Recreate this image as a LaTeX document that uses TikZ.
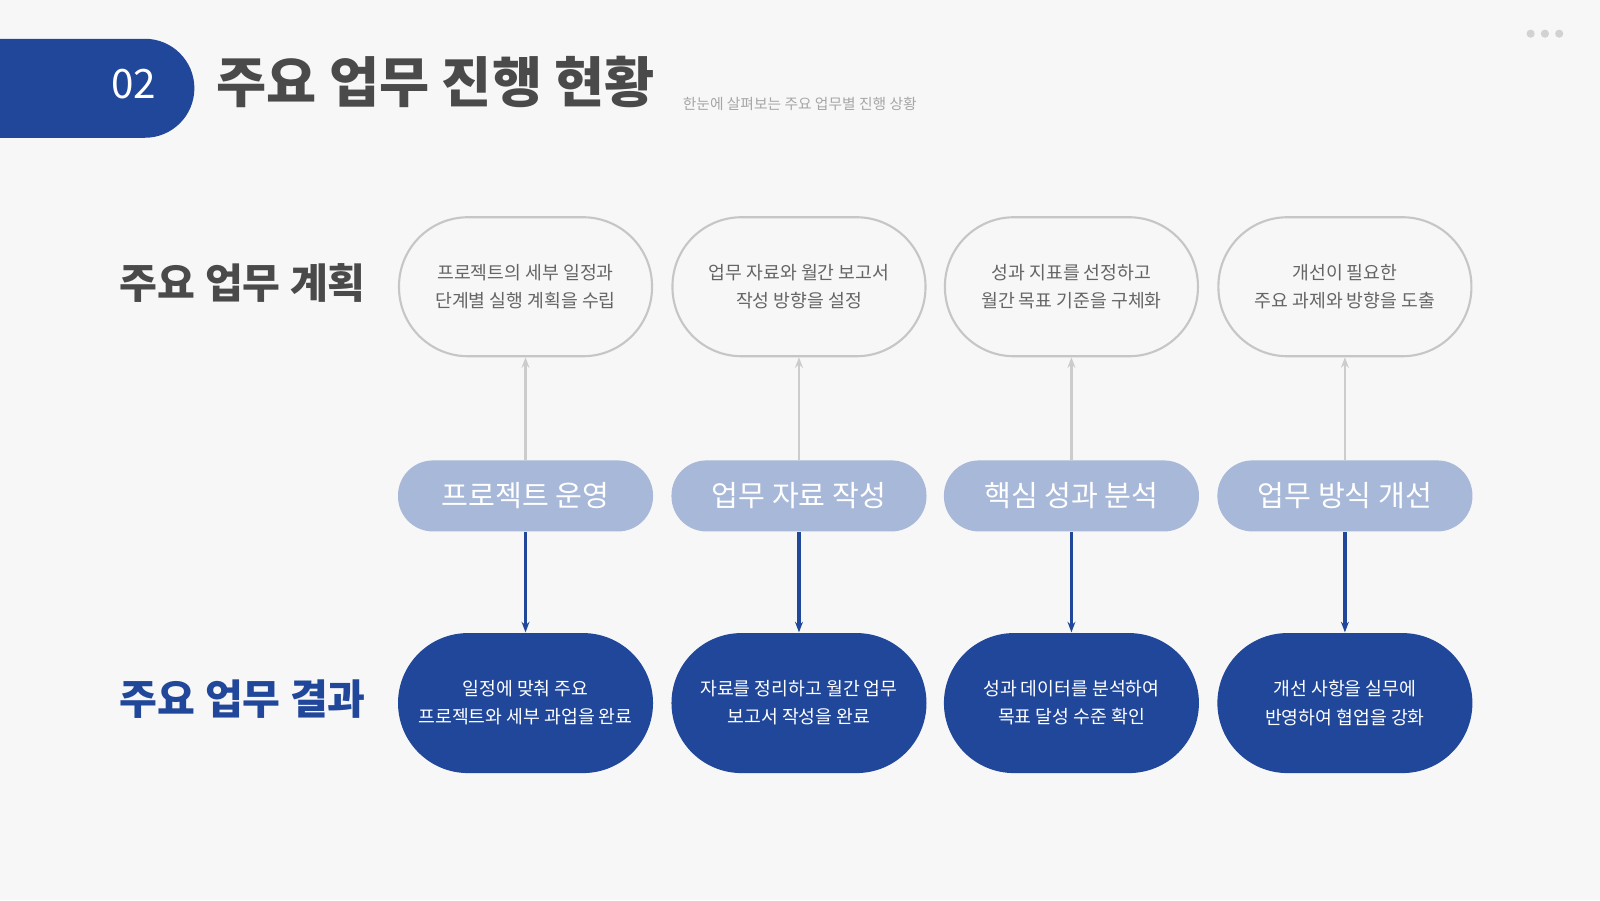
\documentclass[tikz,border=0pt]{standalone}
\usepackage{fontspec}
\setmainfont{Noto Sans CJK KR}
\usetikzlibrary{arrows.meta,positioning}
\definecolor{navy}{HTML}{21479A}
\definecolor{soft}{HTML}{A8B8D8}
\definecolor{ink}{HTML}{4A4A4A}
\definecolor{paper}{HTML}{F7F7F7}
\begin{document}
\begin{tikzpicture}[x=0.10204mm,y=-0.10204mm,% pixel grid
plan/.style = {rectangle, rounded corners=6.9mm, draw=gray!45, line width=0.6pt, fill=paper,
               minimum width=25.3mm, minimum height=13.9mm, align=center,
               font=\fontsize{5.2}{8}\selectfont, text=ink!85},
task/.style = {rectangle, rounded corners=3.5mm, fill=soft, minimum width=25.5mm,
               minimum height=7.1mm, text=white, font=\fontsize{8.3}{10}\selectfont},
done/.style = {rectangle, rounded corners=7mm, fill=navy, minimum width=25.5mm,
               minimum height=14mm, align=center, text=white,
               font=\fontsize{5.2}{8}\selectfont},
up/.style   = {draw=gray!40, line width=0.8pt, -{Stealth[length=3pt]}},
down/.style = {draw=navy, line width=0.9pt, -{Stealth[length=3pt]}}
                    ]
	% page and header
	\fill[paper] (0,0) rectangle (1568,882);
	\useasboundingbox (0,0) rectangle (1568,882);
	\fill[navy] (0,38) -- (142,38) arc[start angle=-90, end angle=90, radius=48.5] -- (0,135) -- cycle;
	\node[text=white, font=\fontsize{11.5}{12}\selectfont] (num) at (131,82) {02};
	\node[anchor=west, text=ink, font=\fontsize{15.5}{16}\bfseries] (title) at (200,80) {주요 업무 진행 현황};
	\node[anchor=west, text=gray!70, font=\fontsize{4.2}{5}\selectfont] (sub) at (657,102) {한눈에 살펴보는 주요 업무별 진행 상황};
	\foreach \x in {1500,1514,1528}
		\fill[gray!35] (\x,33) circle (4);

	% row labels
	\node[text=ink, font=\fontsize{11.7}{12}\bfseries] (rowplan) at (238,277) {주요 업무 계획};
	\node[text=navy, font=\fontsize{11.7}{12}\bfseries] (rowdone) at (238,685) {주요 업무 결과};

	% columns
	\foreach \i/\x/\t/\p/\d in {%
		1/515/프로젝트 운영/프로젝트의 세부 일정과\\단계별 실행 계획을 수립/일정에 맞춰 주요\\프로젝트와 세부 과업을 완료,
		2/783/업무 자료 작성/업무 자료와 월간 보고서\\작성 방향을 설정/자료를 정리하고 월간 업무\\보고서 작성을 완료,
		3/1050/핵심 성과 분석/성과 지표를 선정하고\\월간 목표 기준을 구체화/성과 데이터를 분석하여\\목표 달성 수준 확인,
		4/1318/업무 방식 개선/개선이 필요한\\주요 과제와 방향을 도출/개선 사항을 실무에\\반영하여 협업을 강화}{
		\node[plan] (plan\i) at (\x,281) {\p};
		\node[task] (task\i) at (\x,486) {\t};
		\node[done] (done\i) at (\x,689) {\d};
		\draw[up] (task\i) -- (plan\i);
		\draw[down] (task\i) -- (done\i);
	}
\end{tikzpicture}
\end{document}
